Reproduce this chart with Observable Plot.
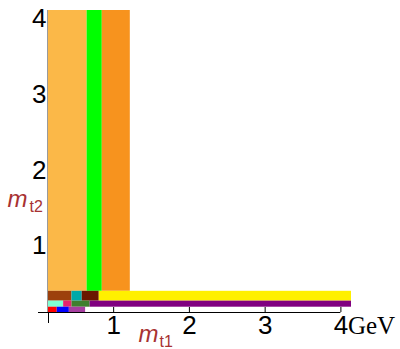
<!DOCTYPE html>
<html>
<head>
<meta charset="utf-8">
<script src="https://cdn.jsdelivr.net/npm/d3@7"></script>
<script src="https://cdn.jsdelivr.net/npm/@observablehq/plot@0.6"></script>
<style>
  html, body { margin: 0; padding: 0; background: #fff; }
  #chart svg { display: block; }
</style>
</head>
<body>
<div id="chart"></div>
<script>
// Mass intervals (GeV) in the m_t1 / m_t2 plane
const bands  = ["a", "b", "c", "d", "e", "f", "g", "h", "i", "j", "k", "l", "m", "n"];
const x1s    = [0.14, 0.65, 0.85, 0.14, 0.45, 0.585, 0.81, 0.14, 0.34, 0.45, 0.69, 0.14, 0.255, 0.415];
const x2s    = [0.65, 0.85, 1.22, 0.45, 0.585, 0.81, 4.14, 0.34, 0.45, 0.69, 4.14, 0.255, 0.415, 0.63];
const y1s    = [0.40, 0.40, 0.40, 0.27, 0.27, 0.27, 0.27, 0.19, 0.19, 0.19, 0.19, 0.12, 0.12, 0.12];
const y2s    = [4.11, 4.11, 4.11, 0.40, 0.40, 0.40, 0.40, 0.27, 0.27, 0.27, 0.27, 0.19, 0.19, 0.19];
const colors = ["#FBB848", "#00FF00", "#F7931E", "#9C400C", "#00A9A9", "#6A1800", "#FFF000",
                "#7FFFD4", "#E5246D", "#3F7F2F", "#800080", "#FF0000", "#0000FF", "#A63FA0"];

const xDomain = [0.14, 4.14];
const yDomain = [0.12, 4.11];
const xTicks = [1, 2, 3, 4];
const yTicks = [1, 2, 3, 4];
const unit = "GeV";

const rows = bands.map((b, i) => ({band: b, x1: x1s[i], x2: x2s[i], y1: y1s[i], y2: y2s[i], color: colors[i]}));

const labelColor = "#a83232";
const sans = "'Liberation Sans', Arial, Helvetica, sans-serif";

const chart = Plot.plot({
  width: 400,
  height: 349,
  marginLeft: 48,
  marginRight: 49,
  marginTop: 10,
  marginBottom: 37,
  style: {fontFamily: sans, color: "#000", background: "#fff", overflow: "visible"},
  x: {domain: xDomain, axis: null},
  y: {domain: yDomain, axis: null},
  marks: [
    // inward tick marks on the horizontal axis
    Plot.tickX(xTicks, {x: d => d, stroke: "#000", insetTop: 297}),
    // vertical axis line (light above the origin, dark below it)
    Plot.ruleX([xDomain[0]], {stroke: "#9a9a9a", dx: -1}),
    Plot.ruleX([xDomain[0]], {stroke: "#000", insetTop: 302, insetBottom: -11}),
    // mass bands
    Plot.rect(rows, {x1: "x1", x2: "x2", y1: "y1", y2: "y2", fill: "color"}),
    // horizontal axis line
    Plot.ruleY([yDomain[0]], {x1: xDomain[0], x2: xTicks[xTicks.length - 1], stroke: "#000", insetLeft: -10}),
    // tick labels
    Plot.axisX({ticks: xTicks, tickSize: 0, tickPadding: 3, fontSize: 26, label: null, tickFormat: d => String(d)}),
    Plot.axisY({ticks: yTicks, tickSize: 0, tickPadding: 2, fontSize: 26, label: null, tickFormat: d => String(d)}),
    // unit after the last x tick
    Plot.text([xTicks[xTicks.length - 1]], {
      x: d => d, frameAnchor: "bottom", lineAnchor: "middle", text: () => unit, textAnchor: "start",
      dx: 7, dy: 13, fontSize: 25, fontFamily: "'Liberation Serif', 'Times New Roman', serif", fill: "#000"
    }),
    // axis titles m_t1 and m_t2
    Plot.text(["m"], {frameAnchor: "bottom-left", lineAnchor: "middle", text: d => d, textAnchor: "start",
      dx: 90, dy: 21.5, fontSize: 24, fontStyle: "italic", fill: labelColor}),
    Plot.text(["t1"], {frameAnchor: "bottom-left", lineAnchor: "middle", text: d => d, textAnchor: "start",
      dx: 111, dy: 29.2, fontSize: 16, fill: labelColor}),
    Plot.text(["m"], {frameAnchor: "bottom-left", lineAnchor: "middle", text: d => d, textAnchor: "start",
      dx: -41, dy: -112.7, fontSize: 24, fontStyle: "italic", fill: labelColor}),
    Plot.text(["t2"], {frameAnchor: "bottom-left", lineAnchor: "middle", text: d => d, textAnchor: "start",
      dx: -19, dy: -106, fontSize: 16, fill: labelColor})
  ]
});

document.getElementById("chart").appendChild(chart);
</script>
</body>
</html>
